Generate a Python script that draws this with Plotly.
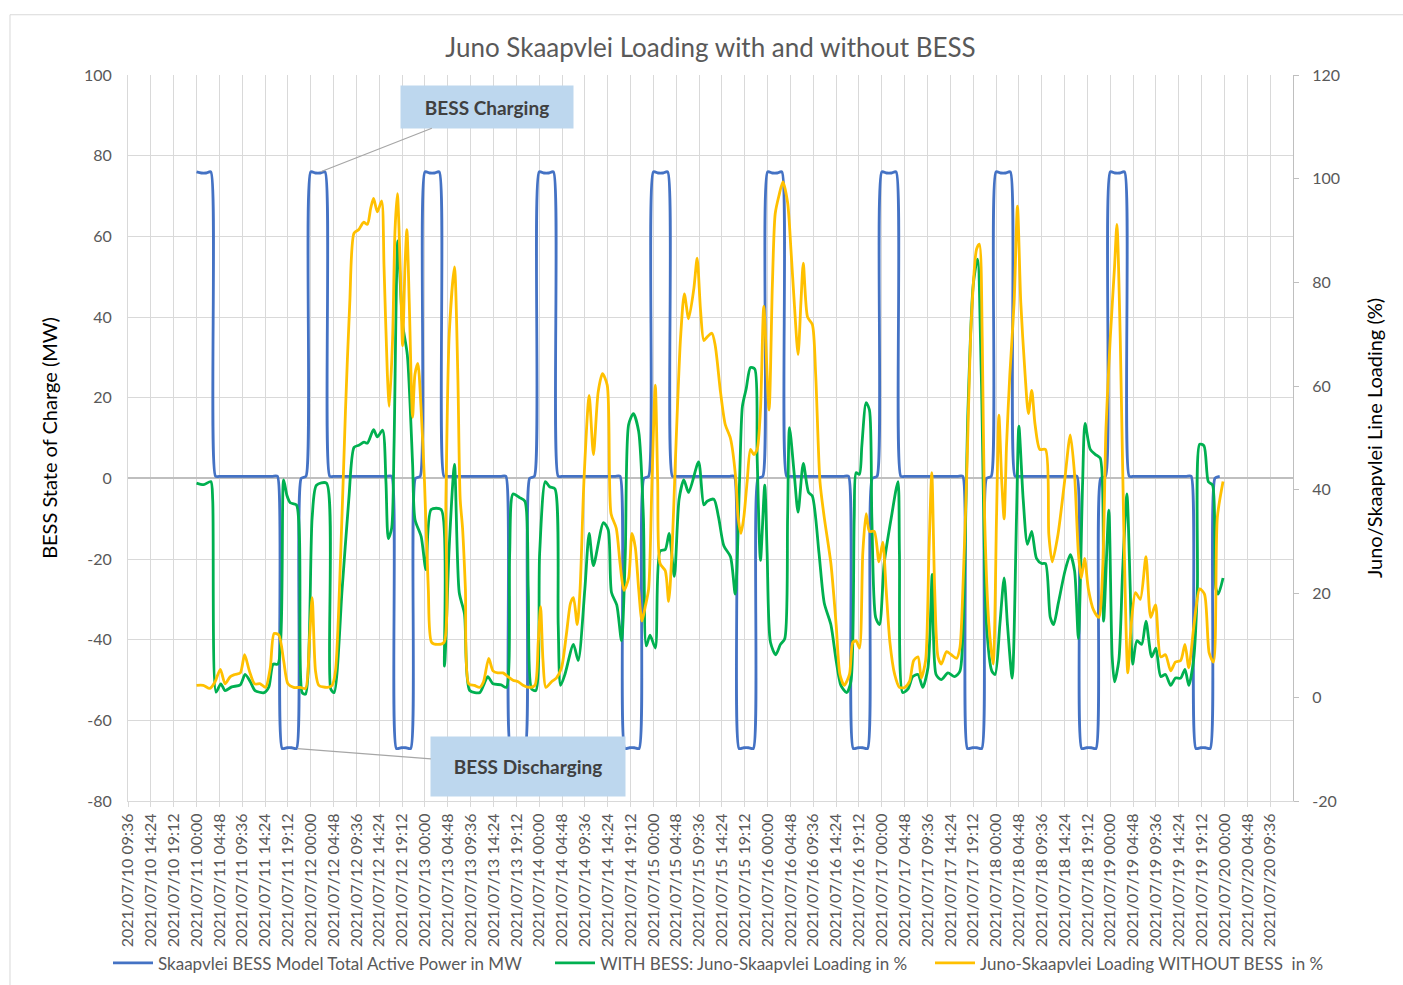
import pandas as pd
import plotly.graph_objects as go

# ---------------- data ----------------
SERIES_START = "2021-07-11 00:00"

# Blue: BESS active power (MW), hourly values from 2021/07/11 00:00
BLUE_MW = [
    76, 75.7, 75.7, 76, 0.5, 0.5, 0.5, 0.5, 0.5, 0.5, 0.5, 0.5, 0.5, 0.5, 0.5, 0.5, 0.5, 0.5, -67, -66.8, -66.8, -67, 0, 0.5,
    76, 75.7, 75.7, 76, 0.5, 0.5, 0.5, 0.5, 0.5, 0.5, 0.5, 0.5, 0.5, 0.5, 0.5, 0.5, 0.5, 0.5, -67, -66.8, -66.8, -67, 0, 0.5,
    76, 75.7, 75.7, 76, 0.5, 0.5, 0.5, 0.5, 0.5, 0.5, 0.5, 0.5, 0.5, 0.5, 0.5, 0.5, 0.5, 0.5, -67, -66.8, -66.8, -67, 0, 0.5,
    76, 75.7, 75.7, 76, 0.5, 0.5, 0.5, 0.5, 0.5, 0.5, 0.5, 0.5, 0.5, 0.5, 0.5, 0.5, 0.5, 0.5, -67, -66.8, -66.8, -67, 0, 0.5,
    76, 75.7, 75.7, 76, 0.5, 0.5, 0.5, 0.5, 0.5, 0.5, 0.5, 0.5, 0.5, 0.5, 0.5, 0.5, 0.5, 0.5, -67, -66.8, -66.8, -67, 0, 0.5,
    76, 75.7, 75.7, 76, 0.5, 0.5, 0.5, 0.5, 0.5, 0.5, 0.5, 0.5, 0.5, 0.5, 0.5, 0.5, 0.5, 0.5, -67, -66.8, -66.8, -67, 0, 0.5,
    76, 75.7, 75.7, 76, 0.5, 0.5, 0.5, 0.5, 0.5, 0.5, 0.5, 0.5, 0.5, 0.5, 0.5, 0.5, 0.5, 0.5, -67, -66.8, -66.8, -67, 0, 0.5,
    76, 75.7, 75.7, 76, 0.5, 0.5, 0.5, 0.5, 0.5, 0.5, 0.5, 0.5, 0.5, 0.5, 0.5, 0.5, 0.5, 0.5, -67, -66.8, -66.8, -67, 0, 0.5,
    76, 75.7, 75.7, 76, 0.5, 0.5, 0.5, 0.5, 0.5, 0.5, 0.5, 0.5, 0.5, 0.5, 0.5, 0.5, 0.5, 0.5, -67, -66.8, -66.8, -67, 0, 0.5,
]

# Green: WITH BESS loading (%), (hours from 2021/07/11 00:00, value)
GREEN_H = [0, 1.5, 3.0, 3.4, 4.1, 5.1, 6.0, 7.4, 9.2, 10.2, 11.3, 12.3, 14.2, 15.2, 16.1, 17.1, 18.3, 19.0, 19.7, 21.0,
           22.2, 22.9, 24.3, 25.2, 27.3, 28.2, 28.9, 30.6, 32.0, 33.1, 34.1, 35.2, 35.9, 37.2, 38.0, 39.1, 39.8, 40.3, 41.0, 41.5,
           42.3, 43.3, 44.3, 45.4, 45.9, 47.2, 48.2, 49.3, 51.4, 52.1, 53.1, 54.2, 55.2, 56.3, 57.4, 59.5, 60.3, 61.2, 62.3, 64.0,
           65.1, 65.8, 66.5, 67.9, 69.0, 69.7, 70.4, 71.3, 72.1, 73.3, 74.2, 75.3, 76.0, 76.5, 77.4, 79.2, 80.2, 81.6, 82.5, 83.4,
           85.5, 86.5, 87.2, 88.3, 89.3, 90.1, 90.8, 91.8, 92.9, 93.9, 94.5, 95.3, 96.4, 97.4, 98.5, 99.3, 100.4, 101.4, 102.4, 103.4,
           105.5, 106.6, 107.3, 108.7, 109.7, 110.8, 112.2, 113.2, 114.1, 114.7, 115.5, 116.4, 117.3, 117.8, 118.5, 119.4, 119.9, 120.6, 121.7, 122.7,
           123.6, 124.2, 124.6, 125.6, 126.4, 127.5, 128.6, 129.4, 130.8, 131.9, 133.3, 134.4, 135.4, 136.6, 137.5, 138.2, 138.6, 139.3, 139.8, 140.7,
           141.4, 141.9, 142.7, 143.5, 144.5, 146.0, 147.4, 147.7, 148.4, 149.5, 150.5, 151.6, 152.6, 153.7, 154.6, 155.4, 156.5, 157.9, 159.3, 160.4,
           161.1, 162.1, 163.2, 164.1, 164.9, 166.0, 167.1, 167.8, 168.8, 169.7, 170.4, 171.4, 172.3, 172.8, 173.7, 174.6, 175.5, 176.5, 177.6, 178.4,
           179.4, 180.1, 181.1, 182.5, 183.6, 184.5, 185.3, 186.2, 186.7, 187.8, 188.9, 189.9, 190.6, 191.7, 192.4, 192.9, 193.8, 194.6, 195.5, 196.2,
           196.7, 197.6, 198.6, 199.5, 200.7, 201.6, 202.6, 203.6, 204.7, 205.7, 206.8, 207.7, 208.5, 209.5, 210.3, 210.8, 211.7, 212.6, 213.5, 214.2,
           214.7, 215.7]
GREEN_V = [41.3, 41.0, 41.6, 38.0, 1.0, 2.6, 1.3, 2.0, 2.4, 4.4, 3.0, 1.3, 0.9, 2.0, 6.4, 6.4, 41.9, 38.9, 37.5, 37.1,
           0.9, 0.6, 34.7, 40.9, 41.3, 1.6, 0.9, 20.9, 38.2, 48.2, 48.6, 49.2, 49.0, 51.6, 50.2, 51.5, 41.6, 30.6, 32.6, 48.5,
           88.0, 72.0, 66.0, 45.0, 34.3, 31.0, 24.6, 36.2, 36.2, 6.0, 29.1, 44.9, 20.2, 16.1, 1.3, 0.9, 2.3, 4.0, 2.6, 2.4,
           1.9, 27.8, 39.2, 38.5, 37.8, 20.9, 1.6, 1.3, 27.8, 41.6, 40.6, 40.2, 14.0, 2.3, 4.4, 10.2, 7.1, 20.9, 31.6, 25.4,
           33.7, 32.3, 20.2, 17.8, 10.9, 27.8, 52.6, 54.7, 51.3, 34.7, 9.9, 12.0, 9.5, 28.2, 28.5, 31.6, 23.3, 38.2, 41.9, 39.5,
           45.4, 37.1, 37.8, 38.2, 34.7, 29.2, 27.1, 19.9, 41.6, 56.1, 59.5, 63.6, 63.3, 46.4, 26.4, 40.9, 27.8, 10.6, 8.2, 10.2,
           11.3, 34.7, 52.0, 43.0, 35.7, 45.1, 39.5, 38.8, 27.8, 18.2, 14.0, 7.1, 2.3, 0.9, 3.0, 34.7, 43.3, 43.0, 48.5, 56.8,
           55.4, 34.7, 15.4, 14.0, 25.8, 34.7, 41.6, 27.8, 0.9, 1.6, 4.0, 4.4, 1.9, 5.7, 23.7, 4.4, 3.4, 4.7, 4.0, 5.0,
           14.0, 55.4, 79.5, 84.5, 62.3, 14.0, 5.1, 4.4, 14.0, 23.0, 14.0, 3.7, 34.7, 52.3, 38.2, 29.5, 32.0, 26.8, 25.8, 25.8,
           15.4, 14.0, 18.2, 24.4, 27.5, 24.4, 11.3, 41.6, 52.8, 47.8, 46.8, 46.1, 14.7, 36.1, 7.8, 3.0, 7.1, 24.4, 39.2, 20.9,
           6.4, 10.9, 10.2, 14.7, 7.8, 9.5, 4.0, 4.4, 2.3, 3.7, 3.7, 5.4, 2.3, 7.1, 20.9, 48.8, 48.5, 41.6, 40.9, 20.9,
           19.9, 23.0]

# Yellow: WITHOUT BESS loading (%), (hours from 2021/07/11 00:00, value)
YELLOW_H = [0, 1.4, 2.8, 3.9, 5.0, 6.0, 7.1, 8.1, 9.2, 10.1, 11.1, 12.2, 13.4, 14.5, 15.5, 16.3, 17.3, 18.3, 19.2, 20.4,
            21.8, 22.9, 23.7, 24.3, 25.0, 25.7, 27.5, 28.5, 29.2, 30.3, 31.3, 32.2, 33.1, 34.1, 35.1, 35.9, 36.6, 37.2, 38.0, 38.9,
            39.4, 40.1, 40.5, 41.2, 41.7, 42.2, 42.8, 43.3, 43.8, 44.2, 44.7, 45.4, 45.9, 46.5, 47.2, 47.9, 48.7, 49.4, 50.7, 52.0,
            52.4, 53.1, 54.2, 54.9, 55.4, 55.9, 56.5, 57.2, 58.4, 59.5, 60.3, 61.4, 62.3, 63.3, 64.4, 65.4, 66.5, 67.6, 68.6, 69.9,
            71.1, 71.8, 72.3, 72.8, 73.4, 74.6, 75.6, 76.7, 77.7, 78.6, 79.2, 80.0, 80.6, 81.4, 82.5, 83.4, 84.4, 85.3, 86.3, 87.1,
            88.2, 89.0, 89.8, 90.8, 91.5, 92.2, 92.9, 93.6, 94.3, 95.0, 95.7, 96.4, 96.9, 97.4, 98.5, 99.2, 99.9, 100.6, 101.7, 102.5,
            103.4, 104.5, 105.2, 105.9, 106.6, 107.3, 108.3, 109.0, 110.1, 111.1, 112.2, 113.3, 113.8, 114.4, 115.0, 115.7, 116.4, 117.1, 117.8, 118.5,
            119.2, 120.3, 121.0, 121.6, 122.4, 123.2, 124.2, 124.9, 125.6, 126.4, 127.0, 127.5, 128.4, 129.4, 130.1, 131.0, 131.9, 133.3, 134.4, 135.2,
            136.1, 137.2, 137.9, 138.6, 139.3, 140.0, 140.7, 141.4, 142.4, 143.4, 144.2, 144.9, 145.7, 146.7, 147.7, 148.8, 149.8, 150.7, 151.6, 152.3,
            153.2, 153.9, 154.5, 155.1, 155.8, 156.5, 157.6, 158.6, 159.7, 160.4, 160.9, 161.8, 162.8, 163.9, 164.5, 165.1, 165.6, 166.5, 167.4, 168.1,
            168.6, 169.2, 169.7, 170.2, 170.9, 171.8, 172.5, 173.2, 174.1, 174.8, 175.5, 176.2, 177.2, 178.4, 179.1, 179.8, 181.0, 182.4, 183.6, 184.5,
            185.3, 185.9, 186.6, 187.4, 188.5, 189.6, 190.4, 191.1, 192.0, 192.9, 193.4, 194.1, 194.8, 195.7, 196.4, 197.3, 198.3, 199.5, 200.5, 201.5,
            202.6, 203.6, 204.7, 205.7, 206.8, 207.7, 208.5, 209.6, 210.8, 211.8, 212.8, 213.7, 214.5, 215.7]
YELLOW_V = [2.3, 2.3, 1.7, 3.0, 5.4, 2.6, 4.0, 4.4, 4.7, 8.2, 5.1, 2.6, 2.6, 1.9, 5.7, 12.3, 12.0, 7.1, 2.6, 1.9,
            1.9, 1.7, 10.6, 19.2, 5.1, 2.3, 1.9, 2.3, 5.1, 27.8, 55.4, 76.1, 89.5, 90.2, 91.6, 91.2, 94.3, 96.2, 93.6, 95.7,
            83.0, 62.3, 56.1, 69.2, 89.9, 97.1, 83.0, 67.8, 83.0, 90.2, 76.1, 54.0, 62.3, 64.4, 55.4, 41.6, 20.9, 10.6, 10.2, 10.6,
            38.0, 70.0, 83.0, 62.3, 38.2, 32.6, 20.9, 2.6, 2.3, 1.9, 3.0, 7.5, 5.1, 4.7, 4.7, 4.0, 3.3, 3.0, 2.3, 1.9,
            2.3, 10.6, 17.5, 7.1, 1.9, 3.0, 3.7, 5.7, 12.0, 18.2, 19.2, 14.0, 20.9, 41.6, 58.2, 46.8, 58.9, 62.4, 60.2, 35.4,
            32.6, 25.8, 20.6, 23.0, 31.6, 28.9, 20.9, 14.7, 17.5, 20.9, 41.6, 60.2, 41.6, 25.8, 24.4, 18.5, 27.8, 45.1, 69.2, 77.8,
            73.0, 78.8, 84.7, 74.7, 68.8, 69.5, 70.2, 67.8, 58.9, 52.6, 49.9, 42.3, 34.7, 31.6, 34.7, 41.6, 47.8, 46.8, 47.8, 55.4,
            75.4, 55.4, 79.5, 93.3, 96.8, 99.4, 95.4, 86.4, 76.1, 66.1, 76.1, 83.7, 73.3, 71.9, 62.3, 41.6, 34.7, 25.8, 14.0, 4.4,
            2.3, 4.4, 10.6, 10.9, 9.5, 27.8, 35.4, 32.0, 32.0, 26.1, 29.9, 20.9, 10.6, 4.4, 1.9, 1.9, 3.0, 7.1, 7.8, 3.7,
            7.1, 27.8, 43.3, 20.9, 7.8, 6.4, 8.8, 8.2, 7.5, 9.5, 17.5, 41.6, 72.6, 86.4, 87.4, 69.2, 34.7, 14.0, 6.4, 34.7,
            54.4, 41.6, 34.4, 48.5, 62.3, 76.1, 94.7, 76.1, 62.3, 54.7, 59.2, 52.6, 47.8, 47.8, 31.3, 26.1, 31.3, 41.6, 50.6, 43.0,
            27.8, 23.0, 26.8, 20.9, 16.8, 15.4, 24.4, 51.9, 69.2, 83.0, 91.2, 69.2, 34.7, 4.7, 14.0, 20.2, 18.9, 27.1, 15.4, 17.8,
            7.8, 8.2, 5.1, 6.8, 7.1, 10.2, 5.7, 14.0, 20.9, 19.9, 8.5, 6.8, 34.7, 41.6]

TITLE = "Juno Skaapvlei Loading with and without BESS"
NAME_BLUE = "Skaapvlei BESS Model Total Active Power in MW"
NAME_GREEN = "WITH BESS: Juno-Skaapvlei Loading in %"
NAME_YELLOW = "Juno-Skaapvlei Loading WITHOUT BESS  in %"
Y1_TITLE = "BESS State of Charge (MW)"
Y2_TITLE = "Juno/Skaapvlei Line Loading (%)"
X_FIRST_TICK = "2021-07-10 09:36"
X_LAST_TICK = "2021-07-20 09:36"
X_RANGE_END = "2021-07-20 14:24"
Y1_TICKS = [-80, -60, -40, -20, 0, 20, 40, 60, 80, 100]
Y1_LABELS = ["-80", "-60", "-40", "-20", "0", "20", "40", "60", "80", "100"]
Y2_TICKS = [-20, 0, 20, 40, 60, 80, 100, 120]
Y2_LABELS = ["-20", "0", "20", "40", "60", "80", "100", "120"]

# ---------------- build ----------------
start = pd.Timestamp(SERIES_START)
blue_x = [start + pd.Timedelta(hours=i) for i in range(len(BLUE_MW))]
green_x = [start + pd.Timedelta(hours=h) for h in GREEN_H]
yellow_x = [start + pd.Timedelta(hours=h) for h in YELLOW_H]

tick_dates = pd.date_range(X_FIRST_TICK, X_LAST_TICK, freq="288min")
tick_text = [d.strftime("%Y/%m/%d %H:%M") for d in tick_dates]

FONT = "Lato"
GRID = "#D9D9D9"
TXT = "#595959"

fig = go.Figure()
fig.add_trace(go.Scatter(x=blue_x, y=BLUE_MW, name=NAME_BLUE, mode="lines", legend="legend",
                         line=dict(color="#4472C4", width=2.8, shape="spline", smoothing=0.6)))
fig.add_trace(go.Scatter(x=green_x, y=GREEN_V, name=NAME_GREEN, mode="lines", yaxis="y2", legend="legend2",
                         line=dict(color="#00B050", width=2.8, shape="spline", smoothing=0.7)))
fig.add_trace(go.Scatter(x=yellow_x, y=YELLOW_V, name=NAME_YELLOW, mode="lines", yaxis="y2", legend="legend3",
                         line=dict(color="#FFC000", width=2.8, shape="spline", smoothing=0.7)))

LEG_Y = -0.2237
PLOT_L, PLOT_W = 128, 1165


def leg(px):
    return dict(orientation="h", x=(px - PLOT_L) / PLOT_W, xanchor="left", y=LEG_Y, yanchor="middle",
                font=dict(size=17, color=TXT, family=FONT), bgcolor="rgba(0,0,0,0)", itemwidth=40)


fig.update_layout(
    width=1403, height=985,
    margin=dict(l=128, r=110, t=75, b=183.5, autoexpand=False),
    paper_bgcolor="white", plot_bgcolor="white",
    font=dict(family=FONT, color=TXT),
    title=dict(text=TITLE, x=0.5, xref="paper", xanchor="center", y=1 - 48 / 985, yanchor="middle",
               font=dict(size=26, color=TXT, family=FONT)),
    showlegend=True,
    legend=leg(108), legend2=leg(550), legend3=leg(930),
    xaxis=dict(type="date", range=[X_FIRST_TICK, X_RANGE_END], tickmode="array",
               tickvals=list(tick_dates), ticktext=tick_text, tickangle=-90,
               tickfont=dict(size=16, color=TXT, family=FONT), automargin=False,
               showgrid=True, gridcolor=GRID, gridwidth=1,
               ticks="outside", ticklen=5, tickcolor=GRID,
               showline=True, linecolor=GRID, linewidth=1, zeroline=False),
    yaxis=dict(range=[Y1_TICKS[0], Y1_TICKS[-1]], tickmode="array", tickvals=Y1_TICKS, ticktext=Y1_LABELS,
               showgrid=True, gridcolor=GRID, gridwidth=1, automargin=False,
               zeroline=True, zerolinecolor="#BFBFBF", zerolinewidth=1.5,
               showline=True, linecolor=GRID, linewidth=1, ticks="", ticklabelstandoff=12,
               tickfont=dict(size=16, color=TXT, family=FONT),
               title=dict(text=Y1_TITLE, font=dict(size=20, color="#000000", family=FONT), standoff=20)),
    yaxis2=dict(range=[Y2_TICKS[0], Y2_TICKS[-1]], tickmode="array", tickvals=Y2_TICKS, ticktext=Y2_LABELS,
                overlaying="y", side="right", automargin=False,
                showgrid=False, zeroline=False, showline=True, linecolor="#BFBFBF", linewidth=1,
                ticks="outside", ticklen=5, tickcolor="#BFBFBF", ticklabelstandoff=10,
                tickfont=dict(size=16, color=TXT, family=FONT),
                title=dict(text=Y2_TITLE, font=dict(size=20, color="#000000", family=FONT), standoff=28)),
)

# outer chart-area border
fig.add_shape(type="rect", xref="paper", yref="paper", x0=-0.1013, x1=1.2, y0=-0.5, y1=1.083,
              line=dict(color=GRID, width=1), fillcolor="rgba(0,0,0,0)", layer="below")

# callouts
fig.add_annotation(x=start + pd.Timedelta(hours=26.1), y=76, xref="x", yref="y",
                   text="<b>BESS Charging</b>", showarrow=True, arrowhead=0, arrowwidth=1.2,
                   arrowcolor="#A6A6A6", ax=166, ay=-65, width=170, height=40,
                   bgcolor="#BDD7EE", font=dict(size=19, color="#404040", family=FONT))
fig.add_annotation(x=start + pd.Timedelta(hours=21.2), y=-67, xref="x", yref="y",
                   text="<b>BESS Discharging</b>", showarrow=True, arrowhead=0, arrowwidth=1.2,
                   arrowcolor="#A6A6A6", ax=231, ay=18, width=192, height=57,
                   bgcolor="#BDD7EE", font=dict(size=19, color="#404040", family=FONT))

fig.write_html("out.html")
